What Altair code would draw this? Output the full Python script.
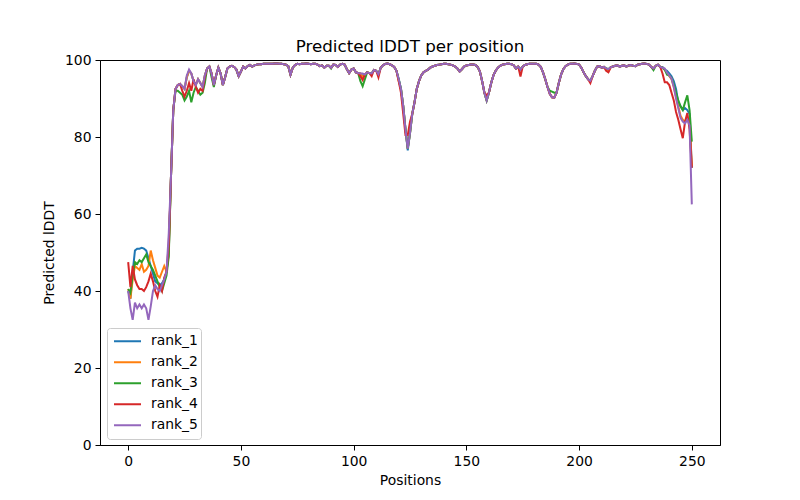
import altair as alt
import pandas as pd

ranks = ["rank_1", "rank_2", "rank_3", "rank_4", "rank_5"]
colors = ["#1f77b4", "#ff7f0e", "#2ca02c", "#d62728", "#9467bd"]

# positions 0..18 (per model)
head_rank_1 = [40, 38, 45, 50.5, 51, 51, 51.2, 51, 50.5, 48.5, 46.5, 44.5, 42.5, 42, 41.5, 42, 43, 45, 50]
head_rank_2 = [40.5, 38, 43, 46.5, 46, 45.5, 47, 45, 45.5, 46.5, 50.5, 48, 46, 44, 43.5, 45, 46.5, 45, 50]
head_rank_3 = [40.5, 39.5, 44, 47.5, 47, 48, 47.5, 48.5, 49.5, 47.5, 46.5, 45.5, 44, 42.5, 41, 40, 42, 44, 49]
head_rank_4 = [47.5, 41, 46.5, 43, 41.5, 40.5, 40.5, 40, 41, 42.5, 44.5, 42.5, 40, 38.5, 41.5, 40, 43.5, 45, 52]
head_rank_5 = [40, 35.5, 32.5, 37, 35.5, 36.5, 35.5, 36.5, 35.5, 32.5, 36, 40, 41.5, 40.5, 40, 41.5, 43, 45, 55]

# positions 19..236 (shared profile)
core = [
    70, 87, 92.5, 93.5, 93.8, 93.2, 92.5, 95.5, 97.2, 96.5,
    94.5, 93.5, 95, 94, 93, 96, 97.8, 98.3, 96.5, 93.5,
    96, 98, 96.5, 93.5, 95.5, 97.8, 98.3, 98.5, 98.2, 97.5,
    95.8, 97, 98.3, 97.8, 98.4, 98.7, 98.3, 98.6, 98.8, 98.9,
    98.9, 99, 99, 99, 99, 99, 99.1, 99.1, 99, 99,
    98.9, 98.8, 98.4, 96.2, 98, 98.7, 99, 98.9, 99, 99,
    99.1, 99, 98.9, 99, 99, 98.8, 98.4, 98.6, 98, 98.5,
    98.5, 98, 98.8, 98.7, 98.2, 98.8, 99, 98.8, 97.6, 96.6,
    97.5, 97.8, 96.8, 96.6, 96.5, 95.8, 96.2, 96.8, 96.6, 96.5,
    97.4, 97.2, 96.3, 98, 98.6, 99, 99.1, 98.9, 98.6, 98.2,
    97.2, 95, 92.5, 88, 82, 77, 81, 86, 89, 92.5,
    94.5, 96, 96.8, 97.2, 97.5, 98, 98.3, 98.5, 98.7, 98.8,
    98.9, 99, 99, 98.9, 98.8, 98.6, 98.3, 97.8, 97, 97.6,
    98.3, 98.6, 98.7, 98.8, 98.8, 98.7, 98.2, 97, 94.5, 91.5,
    89.5, 91.5, 94, 96, 97.2, 98, 98.5, 98.8, 98.9, 99,
    99, 98.9, 98.6, 97.8, 98.3, 97.5, 98.3, 98.7, 98.9, 99,
    99, 99, 99, 98.8, 98.2, 96.8, 95, 93, 91.2, 90.3,
    90.2, 91.5, 94, 96.2, 97.6, 98.4, 98.8, 99, 99, 99.1,
    99, 98.8, 98, 96.8, 95.8, 95, 94.6, 95.8, 97.2, 98.3,
    98.4, 98, 98.2, 97.8, 97.6, 98.1, 98.3, 98.5, 98.6, 98.3,
    98.5, 98.6, 98.3, 98.6, 98.7, 98.5, 98.4, 98.8, 98.9, 99,
    99.1, 99, 98.8, 98.2, 97.8, 98.5, 98.8, 98.2,
]

# where a model visibly departs from the shared profile: {position: value}
adj_rank_1 = {124: 76.5}
adj_rank_2 = {104: 95.5, 120: 94.5, 213: 97}
adj_rank_3 = {21: 92, 22: 92, 23: 91.5, 24: 91, 25: 89.5, 26: 90.5, 27: 92, 28: 89,
              29: 91.5, 30: 93, 31: 92, 32: 91, 33: 91.5, 34: 94, 37: 95.5, 38: 93,
              90: 97.8, 103: 94.5, 104: 93.2, 105: 95, 187: 92, 188: 91.8, 189: 91.5,
              233: 97.4}
adj_rank_4 = {24: 92, 25: 90.5, 26: 92, 27: 94, 28: 92, 29: 95, 30: 93, 31: 91.5,
              32: 92.5, 33: 92, 34: 95.5, 103: 95.8, 104: 94.8, 108: 95.8, 111: 95.5,
              120: 94.5, 121: 91.5, 122: 86, 123: 80.5, 124: 80.5, 125: 84, 159: 90.8,
              174: 95.7, 205: 94, 212: 97.2, 213: 96.8}
adj_rank_5 = {26: 96, 27: 97.5, 104: 96.5}

# positions 237..250 (per model)
tail_rank_1 = [98.2, 97.5, 97.2, 96.5, 95.8, 94.5, 92.5, 89, 88, 87, 87.5, 87, 86, 72]
tail_rank_2 = [98, 97.5, 96.5, 95.8, 95, 93, 90.5, 88, 85.5, 84.5, 84, 85, 84, 72.5]
tail_rank_3 = [98, 97.5, 96.2, 96, 95.3, 93.5, 91.5, 89.5, 88, 87, 89, 90.8, 87, 78.8]
tail_rank_4 = [96.5, 94.2, 94.2, 93.5, 91.5, 89.5, 86.5, 84.5, 82, 79.7, 84, 86.2, 82, 72]
tail_rank_5 = [98, 97.8, 96.7, 96, 95.2, 93, 90, 87.5, 85, 84, 83.5, 84.5, 83, 62.5]

heads = [head_rank_1, head_rank_2, head_rank_3, head_rank_4, head_rank_5]
adjs = [adj_rank_1, adj_rank_2, adj_rank_3, adj_rank_4, adj_rank_5]
tails = [tail_rank_1, tail_rank_2, tail_rank_3, tail_rank_4, tail_rank_5]

rows = []
for name, h, a, t in zip(ranks, heads, adjs, tails):
    mid = list(core)
    for pos, val in a.items():
        mid[pos - 19] = val
    vals = h + mid + t
    for i, v in enumerate(vals):
        rows.append({"Position": i, "lDDT": v, "model": name})
df = pd.DataFrame(rows)

FONT = "DejaVu Sans"

chart = alt.Chart(df).mark_line(strokeWidth=2, clip=True).encode(
    x=alt.X("Position:Q",
            scale=alt.Scale(domain=[-12.5, 262.5], nice=False, zero=False),
            axis=alt.Axis(title="Positions", values=[0, 50, 100, 150, 200, 250],
                          grid=False, tickSize=5, labelPadding=4, titlePadding=6)),
    y=alt.Y("lDDT:Q",
            scale=alt.Scale(domain=[0, 100], nice=False),
            axis=alt.Axis(title="Predicted lDDT", values=[0, 20, 40, 60, 80, 100],
                          grid=False, tickSize=5, labelPadding=4, titlePadding=8)),
    color=alt.Color("model:N",
                    scale=alt.Scale(domain=ranks, range=colors),
                    legend=alt.Legend(title=None, orient="none", legendX=7, legendY=268,
                                      symbolType="stroke", symbolSize=729,
                                      symbolStrokeWidth=2, clipHeight=20.5,
                                      rowPadding=0, labelOffset=9,
                                      padding=3, symbolOffset=3, cornerRadius=3,
                                      strokeColor="#cccccc", fillColor="#ffffff",
                                      labelFontSize=13.9, labelFont=FONT,
                                      labelColor="#000000")),
    detail="model:N",
).properties(
    width=620,
    height=385,
    title=alt.Title("Predicted lDDT per position", fontSize=16.7, font=FONT,
                    fontWeight="normal", color="#000000", offset=-3),
    autosize=alt.AutoSizeParams(type="none"),
    padding={"left": 92, "top": 52, "right": 64, "bottom": 46},
).configure_view(
    stroke="#000000", strokeWidth=1
).configure_axis(
    labelFont=FONT, titleFont=FONT, labelFontSize=13.9, titleFontSize=13.9,
    labelColor="#000000", titleColor="#000000", tickColor="#000000",
    domainColor="#000000", titleFontWeight="normal"
)

chart.save("out.html", embed_options={"renderer": "svg", "actions": False})
